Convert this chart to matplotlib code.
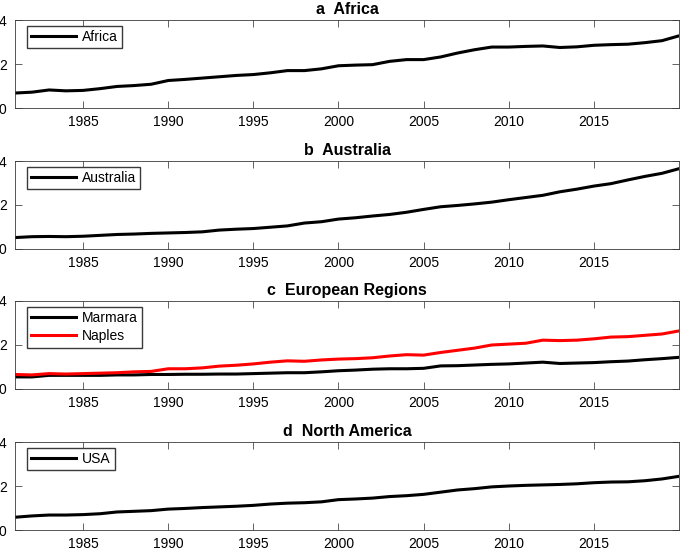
import numpy as np
import matplotlib
matplotlib.use('Agg')
import matplotlib.pyplot as plt

plt.rcParams['font.family'] = ['Liberation Sans', 'DejaVu Sans']

# Years and series values
years = np.arange(1981, 2021)

africa = [0.68, 0.72, 0.82, 0.78, 0.80, 0.88, 0.98, 1.02, 1.08, 1.25,
          1.30, 1.36, 1.42, 1.48, 1.52, 1.60, 1.70, 1.70, 1.78, 1.92,
          1.95, 1.97, 2.12, 2.20, 2.20, 2.32, 2.50, 2.65, 2.77, 2.77,
          2.80, 2.82, 2.75, 2.78, 2.85, 2.88, 2.90, 2.97, 3.06, 3.28]

australia = [0.52, 0.56, 0.57, 0.56, 0.58, 0.62, 0.66, 0.68, 0.71, 0.73,
             0.75, 0.78, 0.86, 0.90, 0.93, 0.99, 1.05, 1.18, 1.24, 1.36,
             1.42, 1.50, 1.57, 1.67, 1.80, 1.92, 1.98, 2.05, 2.13, 2.24,
             2.34, 2.44, 2.60, 2.72, 2.86, 2.97, 3.14, 3.30, 3.44, 3.65]

marmara = [0.55, 0.55, 0.62, 0.62, 0.62, 0.62, 0.64, 0.64, 0.66, 0.66,
           0.67, 0.67, 0.68, 0.68, 0.70, 0.72, 0.74, 0.74, 0.78, 0.83,
           0.86, 0.90, 0.92, 0.92, 0.94, 1.05, 1.06, 1.09, 1.12, 1.14,
           1.18, 1.22, 1.16, 1.18, 1.20, 1.24, 1.27, 1.33, 1.38, 1.44]

naples = [0.66, 0.64, 0.70, 0.68, 0.70, 0.72, 0.74, 0.78, 0.80, 0.92,
          0.92, 0.96, 1.04, 1.08, 1.14, 1.22, 1.28, 1.26, 1.32, 1.36,
          1.38, 1.42, 1.50, 1.56, 1.54, 1.66, 1.76, 1.86, 2.00, 2.04,
          2.08, 2.22, 2.20, 2.22, 2.28, 2.36, 2.38, 2.44, 2.50, 2.64]

usa = [0.58, 0.64, 0.68, 0.68, 0.70, 0.74, 0.82, 0.85, 0.88, 0.95,
       0.98, 1.02, 1.05, 1.08, 1.12, 1.18, 1.22, 1.24, 1.28, 1.38,
       1.41, 1.45, 1.52, 1.56, 1.62, 1.72, 1.82, 1.88, 1.96, 2.00,
       2.03, 2.05, 2.07, 2.10, 2.15, 2.18, 2.19, 2.24, 2.32, 2.44]

panel_titles = ["a  Africa", "b  Australia", "c  European Regions", "d  North America"]
panel_series = [
    [("Africa", africa, "black")],
    [("Australia", australia, "black")],
    [("Marmara", marmara, "black"), ("Naples", naples, "red")],
    [("USA", usa, "black")],
]
xtick_years = [1985, 1990, 1995, 2000, 2005, 2010, 2015]
ytick_vals = [0, 2, 4]

fig = plt.figure(figsize=(6.85, 5.52), dpi=100)

# axes placement in pixels (MATLAB-like layout)
W, H = 685, 552
left_px, right_px = 15, 679
tops_px = [20, 161, 301, 442]
height_px = 88
axw = right_px - left_px

for i in range(4):
    top = tops_px[i]
    ax = fig.add_axes([left_px / W, 1 - (top + height_px) / H,
                       axw / W, height_px / H])
    for label, vals, col in panel_series[i]:
        ax.plot(years, vals, color=col, linewidth=2.2, label=label)
    ax.set_xlim(1981, 2020)
    ax.set_ylim(0, 4)
    ax.set_xticks(xtick_years)
    ax.set_yticks(ytick_vals)
    ax.tick_params(direction='in', top=True, right=True, length=5,
                   width=0.5, labelsize=10, color='#262626')
    ax.tick_params(axis='x', pad=5)
    ax.tick_params(axis='y', pad=6)
    for s in ax.spines.values():
        s.set_linewidth(0.6)
        s.set_color('#3a3a3a')
    ax.set_title(panel_titles[i], fontsize=11.5, fontweight='bold', pad=4)
    ax.legend(loc='upper left', bbox_to_anchor=(12 / axw, 1 - 6 / height_px),
              borderaxespad=0, fontsize=10, frameon=True, fancybox=False,
              edgecolor='#3a3a3a', framealpha=1, handlelength=3.2,
              handletextpad=0.45, borderpad=0.3, labelspacing=0.3)

fig.savefig("out.png", dpi=100)
